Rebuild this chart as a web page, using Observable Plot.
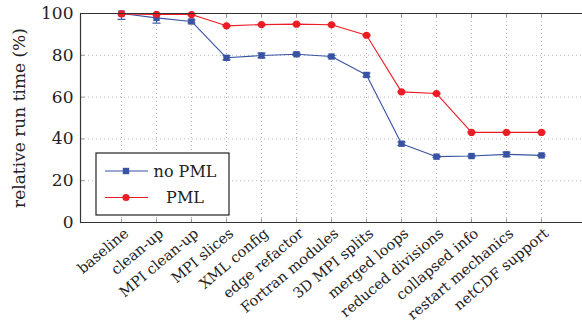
<!DOCTYPE html>
<html><head><meta charset="utf-8">
<script src="https://cdn.jsdelivr.net/npm/d3@7"></script>
<script src="https://cdn.jsdelivr.net/npm/@observablehq/plot@0.6"></script>
<style>body{margin:0;background:#fff}</style>
</head><body><div id="chart"></div>
<script>
const categories = ["baseline","clean-up","MPI clean-up","MPI slices","XML config","edge refactor","Fortran modules","3D MPI splits","merged loops","reduced divisions","collapsed info","restart mechanics","netCDF support"];
const noPml    = [100.0, 97.9, 96.2, 78.8, 79.9, 80.5, 79.4, 70.6, 37.7, 31.5, 31.8, 32.6, 32.1];
const noPmlErr = [2.8, 2.5, 0.7, 1.0, 1.1, 0.5, 0.5, 0.9, 0.8, 0.4, 0.4, 1.0, 0.4];
const pml      = [99.8, 99.6, 99.5, 94.1, 94.7, 94.9, 94.6, 89.6, 62.5, 61.7, 43.1, 43.1, 43.1];
const pmlErr   = [0.3, 0.3, 0.3, 0.3, 0.3, 0.3, 0.3, 0.3, 0.3, 0.3, 0.3, 0.3, 0.3];
const yTicks = [0, 20, 40, 60, 80, 100];
const seriesNames = ["no PML", "PML"];
const seriesColors = ["#3953a4", "#ec1c24"];
const seriesSymbols = ["square", "circle"];

const data = categories.flatMap((c, i) => [
  {cat: c, series: "no PML", value: noPml[i], err: noPmlErr[i]},
  {cat: c, series: "PML", value: pml[i], err: pmlErr[i]}
]);

const cap = {draw(ctx, size) { const w = Math.sqrt(size / Math.PI); ctx.moveTo(-w, 0); ctx.lineTo(w, 0); }};
const tickUp = {draw(ctx) { ctx.moveTo(0, 0); ctx.lineTo(0, -4); }};
const tickDown = {draw(ctx) { ctx.moveTo(0, 0); ctx.lineTo(0, 4); }};
const tickRight = {draw(ctx) { ctx.moveTo(0, 0); ctx.lineTo(4, 0); }};
const font = "'DejaVu Serif', serif";

const chart = Plot.plot({
  width: 582, height: 320,
  marginLeft: 80, marginRight: 0, marginTop: 13, marginBottom: 98,
  style: {fontFamily: font, background: "#fff"},
  x: {type: "point", domain: categories, padding: 1, axis: null},
  y: {domain: [0, 100], axis: null},
  color: {domain: seriesNames, range: seriesColors},
  symbol: {domain: seriesNames, range: seriesSymbols},
  marks: [
    Plot.gridY(yTicks, {stroke: "#b8b8b8", strokeOpacity: 1, strokeDasharray: "1,3"}),
    Plot.gridX(categories, {stroke: "#b8b8b8", strokeOpacity: 1, strokeDasharray: "1,3"}),
    Plot.dot(categories, {x: d => d, frameAnchor: "bottom", symbol: tickUp, stroke: "#999", fill: "none", strokeWidth: 1}),
    Plot.dot(categories, {x: d => d, frameAnchor: "top", symbol: tickDown, stroke: "#999", fill: "none", strokeWidth: 1}),
    Plot.dot(yTicks, {y: d => d, frameAnchor: "left", symbol: tickRight, stroke: "#999", fill: "none", strokeWidth: 1}),
    Plot.axisY(yTicks, {tickSize: 0, tickPadding: 7, fontSize: 17, fill: "#222",
      label: "relative run time (%)", labelAnchor: "center", labelArrow: "none", labelOffset: 68}),
    Plot.text(categories, {x: d => d, text: d => d, frameAnchor: "bottom", dx: 5, dy: 9, rotate: -40,
      textAnchor: "end", lineAnchor: "middle", fontSize: 14.5, fill: "#222"}),
    Plot.ruleX(data, {x: "cat", y1: d => d.value - d.err, y2: d => d.value + d.err, stroke: "series", strokeWidth: 1.2, clip: true}),
    Plot.dot(data, {x: "cat", y: d => d.value + d.err, symbol: cap, r: 4, stroke: "series", fill: "none", strokeWidth: 1.2, clip: true}),
    Plot.dot(data, {x: "cat", y: d => d.value - d.err, symbol: cap, r: 4, stroke: "series", fill: "none", strokeWidth: 1.2, clip: true}),
    Plot.line(data, {x: "cat", y: "value", z: "series", stroke: "series", strokeWidth: 1.1}),
    Plot.dot(data, {x: "cat", y: "value", symbol: "series", fill: "series", stroke: "none", r: 3.6}),
    Plot.ruleY([0, 100], {stroke: "#333", strokeWidth: 1.2}),
    Plot.frame({anchor: "left", stroke: "#333", strokeWidth: 1.2})
  ]
});
document.getElementById("chart").appendChild(chart);

// legend
const svg = d3.select(chart);
const lg = svg.append("g").attr("font-family", font).attr("font-size", 16);
lg.append("rect").attr("x", 96).attr("y", 153).attr("width", 133).attr("height", 62)
  .attr("fill", "#fff").attr("stroke", "#222").attr("stroke-width", 1.2);
seriesNames.forEach((name, i) => {
  const y = 171 + i * 26.5;
  lg.append("line").attr("x1", 105).attr("x2", 148).attr("y1", y).attr("y2", y)
    .attr("stroke", seriesColors[i]).attr("stroke-width", 1.1);
  lg.append("path").attr("transform", `translate(126,${y})`)
    .attr("d", d3.symbol(i === 0 ? d3.symbolSquare : d3.symbolCircle, Math.PI * 3.6 * 3.6)())
    .attr("fill", seriesColors[i]);
  lg.append("text").attr("x", 185).attr("y", y).attr("dy", "0.35em").attr("text-anchor", "middle")
    .attr("fill", "#222").text(name);
});
</script>
</body></html>
